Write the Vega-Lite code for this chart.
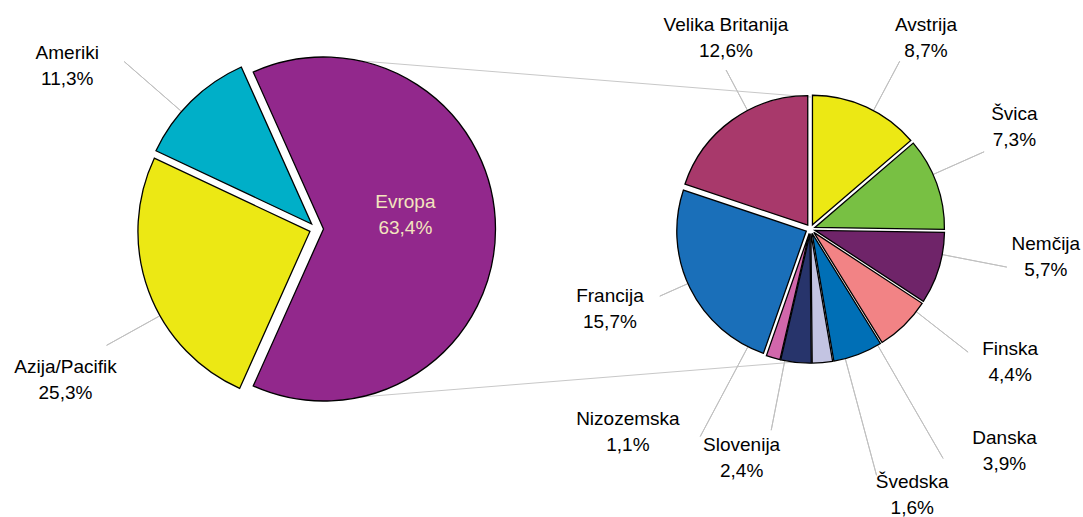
{
  "$schema": "https://vega.github.io/schema/vega-lite/v6.json",
  "width": 1083,
  "height": 517,
  "autosize": {"type": "fit", "contains": "padding"},
  "padding": 0,
  "background": "#ffffff",
  "config": {
    "view": {"stroke": null},
    "text": {"font": "Liberation Sans", "fontSize": 19, "lineHeight": 26, "baseline": "middle", "align": "center", "lineBreak": "\n", "color": "#000000", "dy": -13}
  },
  "data": {
    "values": [
      {"pie": "L", "k": 1, "name": "Evropa", "value": 63.4},
      {"pie": "L", "k": 2, "name": "Azija/Pacifik", "value": 25.3},
      {"pie": "L", "k": 3, "name": "Ameriki", "value": 11.3},
      {"pie": "R", "k": 1, "name": "Avstrija", "value": 8.7},
      {"pie": "R", "k": 2, "name": "Švica", "value": 7.3},
      {"pie": "R", "k": 3, "name": "Nemčija", "value": 5.7},
      {"pie": "R", "k": 4, "name": "Finska", "value": 4.4},
      {"pie": "R", "k": 5, "name": "Danska", "value": 3.9},
      {"pie": "R", "k": 6, "name": "Švedska", "value": 1.6},
      {"pie": "R", "k": 7, "name": "Slovenija", "value": 2.4},
      {"pie": "R", "k": 8, "name": "Nizozemska", "value": 1.1},
      {"pie": "R", "k": 9, "name": "Francija", "value": 15.7},
      {"pie": "R", "k": 10, "name": "Velika Britanija", "value": 12.6}
    ]
  },
  "transform": [
    {"joinaggregate": [{"op": "sum", "field": "value", "as": "total"}], "groupby": ["pie"]},
    {"window": [{"op": "sum", "field": "value", "as": "cum"}], "groupby": ["pie"], "sort": [{"field": "k", "order": "ascending"}], "frame": [null, 0]},
    {"calculate": "(datum.cum - datum.value) / datum.total", "as": "start"},
    {"calculate": "datum.cum / datum.total", "as": "end"},
    {"calculate": "(datum.start + datum.end) / 2", "as": "mid"},
    {"calculate": "datum.name + '\\n' + replace(format(datum.value, '.1f'), '.', ',') + '%'", "as": "label"}
  ],
  "encoding": {
    "x": {"field": "pie", "type": "nominal", "scale": {"type": "point", "domain": ["L", "R"], "range": [316.5, 810.5], "padding": 0}, "axis": null},
    "y": {"field": "pie", "type": "nominal", "scale": {"type": "point", "domain": ["L", "R"], "range": [229, 229], "padding": 0}, "axis": null}
  },
  "resolve": {"scale": {"theta": "independent"}},
  "layer": [
    {"transform": [{"filter": "datum.name === 'Evropa'"}], "mark": {"type": "rule", "stroke": "#C8C8C8", "strokeWidth": 1, "xOffset": 7, "yOffset": -171, "x2Offset": 0.5, "y2Offset": -132}, "encoding": {"x2": {"datum": "R"}, "y2": {"datum": "R"}}},
    {"transform": [{"filter": "datum.name === 'Evropa'"}], "mark": {"type": "rule", "stroke": "#C8C8C8", "strokeWidth": 1, "xOffset": 7, "yOffset": 171, "x2Offset": -2.5, "y2Offset": 132}, "encoding": {"x2": {"datum": "R"}, "y2": {"datum": "R"}}},

    {"transform": [{"filter": "datum.name === 'Ameriki'"}], "mark": {"type": "arc", "filled": false, "stroke": "#C0C0C0", "strokeWidth": 1, "innerRadius": 180, "outerRadius": 255, "thetaOffset": -0.0785, "theta2Offset": -0.0785}, "encoding": {"theta": {"field": "mid", "type": "quantitative", "scale": {"domain": [0, 1], "range": [-0.42097, 5.86221]}}, "theta2": {"field": "mid"}}},
    {"transform": [{"filter": "datum.name === 'Azija/Pacifik'"}], "mark": {"type": "arc", "filled": false, "stroke": "#C0C0C0", "strokeWidth": 1, "innerRadius": 180, "outerRadius": 240, "thetaOffset": -0.1511, "theta2Offset": -0.1511}, "encoding": {"theta": {"field": "mid", "type": "quantitative", "scale": {"domain": [0, 1], "range": [-0.42097, 5.86221]}}, "theta2": {"field": "mid"}}},
    {"transform": [{"filter": "datum.name === 'Velika Britanija'"}], "mark": {"type": "arc", "filled": false, "stroke": "#C0C0C0", "strokeWidth": 1, "innerRadius": 134, "outerRadius": 180, "thetaOffset": 0.1361, "theta2Offset": 0.1361}, "encoding": {"theta": {"field": "mid", "type": "quantitative", "scale": {"domain": [0, 1], "range": [0, 6.28319]}}, "theta2": {"field": "mid"}}},
    {"transform": [{"filter": "datum.name === 'Avstrija'"}], "mark": {"type": "arc", "filled": false, "stroke": "#C0C0C0", "strokeWidth": 1, "innerRadius": 134, "outerRadius": 190, "thetaOffset": 0.0576, "theta2Offset": 0.0576}, "encoding": {"theta": {"field": "mid", "type": "quantitative", "scale": {"domain": [0, 1], "range": [0, 6.28319]}}, "theta2": {"field": "mid"}}},
    {"transform": [{"filter": "datum.name === 'Švica'"}], "mark": {"type": "arc", "filled": false, "stroke": "#C0C0C0", "strokeWidth": 1, "innerRadius": 134, "outerRadius": 190, "thetaOffset": -0.0716, "theta2Offset": -0.0716}, "encoding": {"theta": {"field": "mid", "type": "quantitative", "scale": {"domain": [0, 1], "range": [0, 6.28319]}}, "theta2": {"field": "mid"}}},
    {"transform": [{"filter": "datum.name === 'Nemčija'"}], "mark": {"type": "arc", "filled": false, "stroke": "#C0C0C0", "strokeWidth": 1, "innerRadius": 134, "outerRadius": 200, "thetaOffset": -0.1056, "theta2Offset": -0.1056}, "encoding": {"theta": {"field": "mid", "type": "quantitative", "scale": {"domain": [0, 1], "range": [0, 6.28319]}}, "theta2": {"field": "mid"}}},
    {"transform": [{"filter": "datum.name === 'Finska'"}], "mark": {"type": "arc", "filled": false, "stroke": "#C0C0C0", "strokeWidth": 1, "innerRadius": 134, "outerRadius": 200, "thetaOffset": -0.1344, "theta2Offset": -0.1344}, "encoding": {"theta": {"field": "mid", "type": "quantitative", "scale": {"domain": [0, 1], "range": [0, 6.28319]}}, "theta2": {"field": "mid"}}},
    {"transform": [{"filter": "datum.name === 'Danska'"}], "mark": {"type": "arc", "filled": false, "stroke": "#C0C0C0", "strokeWidth": 1, "innerRadius": 134, "outerRadius": 265, "thetaOffset": -0.1623, "theta2Offset": -0.1623}, "encoding": {"theta": {"field": "mid", "type": "quantitative", "scale": {"domain": [0, 1], "range": [0, 6.28319]}}, "theta2": {"field": "mid"}}},
    {"transform": [{"filter": "datum.name === 'Švedska'"}], "mark": {"type": "arc", "filled": false, "stroke": "#C0C0C0", "strokeWidth": 1, "innerRadius": 134, "outerRadius": 255, "thetaOffset": -0.1728, "theta2Offset": -0.1728}, "encoding": {"theta": {"field": "mid", "type": "quantitative", "scale": {"domain": [0, 1], "range": [0, 6.28319]}}, "theta2": {"field": "mid"}}},
    {"transform": [{"filter": "datum.name === 'Slovenija'"}], "mark": {"type": "arc", "filled": false, "stroke": "#C0C0C0", "strokeWidth": 1, "innerRadius": 134, "outerRadius": 205, "thetaOffset": 0.0838, "theta2Offset": 0.0838}, "encoding": {"theta": {"field": "mid", "type": "quantitative", "scale": {"domain": [0, 1], "range": [0, 6.28319]}}, "theta2": {"field": "mid"}}},
    {"transform": [{"filter": "datum.name === 'Nizozemska'"}], "mark": {"type": "arc", "filled": false, "stroke": "#C0C0C0", "strokeWidth": 1, "innerRadius": 134, "outerRadius": 235, "thetaOffset": 0.2059, "theta2Offset": 0.2059}, "encoding": {"theta": {"field": "mid", "type": "quantitative", "scale": {"domain": [0, 1], "range": [0, 6.28319]}}, "theta2": {"field": "mid"}}},
    {"transform": [{"filter": "datum.name === 'Francija'"}], "mark": {"type": "arc", "filled": false, "stroke": "#C0C0C0", "strokeWidth": 1, "innerRadius": 134, "outerRadius": 165, "thetaOffset": 0.0367, "theta2Offset": 0.0367}, "encoding": {"theta": {"field": "mid", "type": "quantitative", "scale": {"domain": [0, 1], "range": [0, 6.28319]}}, "theta2": {"field": "mid"}}},

    {"transform": [{"filter": "datum.name === 'Evropa'"}], "mark": {"type": "arc", "outerRadius": 172, "fill": "#92288C", "stroke": "#000000", "strokeWidth": 1.3, "xOffset": 7, "yOffset": 0}, "encoding": {"theta": {"field": "start", "type": "quantitative", "scale": {"domain": [0, 1], "range": [-0.42097, 5.86221]}}, "theta2": {"field": "end"}}},
    {"transform": [{"filter": "datum.name === 'Azija/Pacifik'"}], "mark": {"type": "arc", "outerRadius": 172, "fill": "#ECE814", "stroke": "#000000", "strokeWidth": 1.3, "xOffset": -6.56, "yOffset": 2.43}, "encoding": {"theta": {"field": "start", "type": "quantitative", "scale": {"domain": [0, 1], "range": [-0.42097, 5.86221]}}, "theta2": {"field": "end"}}},
    {"transform": [{"filter": "datum.name === 'Ameriki'"}], "mark": {"type": "arc", "outerRadius": 172, "fill": "#00AFC8", "stroke": "#000000", "strokeWidth": 1.3, "xOffset": -4.9, "yOffset": -5.0}, "encoding": {"theta": {"field": "start", "type": "quantitative", "scale": {"domain": [0, 1], "range": [-0.42097, 5.86221]}}, "theta2": {"field": "end"}}},

    {"transform": [{"filter": "datum.name === 'Avstrija'"}], "mark": {"type": "arc", "outerRadius": 129.5, "fill": "#ECE814", "stroke": "#000000", "strokeWidth": 1.3, "xOffset": 1.96, "yOffset": -4.27}, "encoding": {"theta": {"field": "start", "type": "quantitative", "scale": {"domain": [0, 1], "range": [0, 6.28319]}}, "theta2": {"field": "end"}}},
    {"transform": [{"filter": "datum.name === 'Švica'"}], "mark": {"type": "arc", "outerRadius": 129.5, "fill": "#78C043", "stroke": "#000000", "strokeWidth": 1.3, "xOffset": 4.42, "yOffset": -1.6}, "encoding": {"theta": {"field": "start", "type": "quantitative", "scale": {"domain": [0, 1], "range": [0, 6.28319]}}, "theta2": {"field": "end"}}},
    {"transform": [{"filter": "datum.name === 'Nemčija'"}], "mark": {"type": "arc", "outerRadius": 129.5, "fill": "#6F2469", "stroke": "#000000", "strokeWidth": 1.3, "xOffset": 4.49, "yOffset": 1.38}, "encoding": {"theta": {"field": "start", "type": "quantitative", "scale": {"domain": [0, 1], "range": [0, 6.28319]}}, "theta2": {"field": "end"}}},
    {"transform": [{"filter": "datum.name === 'Finska'"}], "mark": {"type": "arc", "outerRadius": 129.5, "fill": "#F28385", "stroke": "#000000", "strokeWidth": 1.3, "xOffset": 3.28, "yOffset": 3.37}, "encoding": {"theta": {"field": "start", "type": "quantitative", "scale": {"domain": [0, 1], "range": [0, 6.28319]}}, "theta2": {"field": "end"}}},
    {"transform": [{"filter": "datum.name === 'Danska'"}], "mark": {"type": "arc", "outerRadius": 129.5, "fill": "#006FB6", "stroke": "#000000", "strokeWidth": 1.3, "xOffset": 1.66, "yOffset": 4.4}, "encoding": {"theta": {"field": "start", "type": "quantitative", "scale": {"domain": [0, 1], "range": [0, 6.28319]}}, "theta2": {"field": "end"}}},
    {"transform": [{"filter": "datum.name === 'Švedska'"}], "mark": {"type": "arc", "outerRadius": 129.5, "fill": "#C3C4E2", "stroke": "#000000", "strokeWidth": 1.3, "xOffset": 0.42, "yOffset": 4.68}, "encoding": {"theta": {"field": "start", "type": "quantitative", "scale": {"domain": [0, 1], "range": [0, 6.28319]}}, "theta2": {"field": "end"}}},
    {"transform": [{"filter": "datum.name === 'Slovenija'"}], "mark": {"type": "arc", "outerRadius": 129.5, "fill": "#27346B", "stroke": "#000000", "strokeWidth": 1.3, "xOffset": -0.51, "yOffset": 4.67}, "encoding": {"theta": {"field": "start", "type": "quantitative", "scale": {"domain": [0, 1], "range": [0, 6.28319]}}, "theta2": {"field": "end"}}},
    {"transform": [{"filter": "datum.name === 'Nizozemska'"}], "mark": {"type": "arc", "outerRadius": 129.5, "fill": "#D167AB", "stroke": "#000000", "strokeWidth": 1.3, "xOffset": -1.31, "yOffset": 4.51}, "encoding": {"theta": {"field": "start", "type": "quantitative", "scale": {"domain": [0, 1], "range": [0, 6.28319]}}, "theta2": {"field": "end"}}},
    {"transform": [{"filter": "datum.name === 'Francija'"}], "mark": {"type": "arc", "outerRadius": 129.5, "fill": "#1A6FB9", "stroke": "#000000", "strokeWidth": 1.3, "xOffset": -4.22, "yOffset": 2.07}, "encoding": {"theta": {"field": "start", "type": "quantitative", "scale": {"domain": [0, 1], "range": [0, 6.28319]}}, "theta2": {"field": "end"}}},
    {"transform": [{"filter": "datum.name === 'Velika Britanija'"}], "mark": {"type": "arc", "outerRadius": 129.5, "fill": "#A8396B", "stroke": "#000000", "strokeWidth": 1.3, "xOffset": -2.75, "yOffset": -3.81}, "encoding": {"theta": {"field": "start", "type": "quantitative", "scale": {"domain": [0, 1], "range": [0, 6.28319]}}, "theta2": {"field": "end"}}},

    {"transform": [{"filter": "datum.name === 'Evropa'"}], "mark": {"type": "text", "radius": 83, "thetaOffset": -0.1676, "xOffset": 7, "color": "#F3E5BE"}, "encoding": {"theta": {"field": "mid", "type": "quantitative", "scale": {"domain": [0, 1], "range": [-0.42097, 5.86221]}}, "text": {"field": "label"}}},
    {"transform": [{"filter": "datum.name === 'Azija/Pacifik'"}], "mark": {"type": "text", "radius": 293, "thetaOffset": -0.1868}, "encoding": {"theta": {"field": "mid", "type": "quantitative", "scale": {"domain": [0, 1], "range": [-0.42097, 5.86221]}}, "text": {"field": "label"}}},
    {"transform": [{"filter": "datum.name === 'Ameriki'"}], "mark": {"type": "text", "radius": 298, "thetaOffset": -0.2147}, "encoding": {"theta": {"field": "mid", "type": "quantitative", "scale": {"domain": [0, 1], "range": [-0.42097, 5.86221]}}, "text": {"field": "label"}}},
    {"transform": [{"filter": "datum.name === 'Velika Britanija'"}], "mark": {"type": "text", "radius": 209, "thetaOffset": 0.2077}, "encoding": {"theta": {"field": "mid", "type": "quantitative", "scale": {"domain": [0, 1], "range": [0, 6.28319]}}, "text": {"field": "label"}}},
    {"transform": [{"filter": "datum.name === 'Avstrija'"}], "mark": {"type": "text", "radius": 223, "thetaOffset": 0.1134}, "encoding": {"theta": {"field": "mid", "type": "quantitative", "scale": {"domain": [0, 1], "range": [0, 6.28319]}}, "text": {"field": "label"}}},
    {"transform": [{"filter": "datum.name === 'Švica'"}], "mark": {"type": "text", "radius": 228, "thetaOffset": -0.1169}, "encoding": {"theta": {"field": "mid", "type": "quantitative", "scale": {"domain": [0, 1], "range": [0, 6.28319]}}, "text": {"field": "label"}}},
    {"transform": [{"filter": "datum.name === 'Nemčija'"}], "mark": {"type": "text", "radius": 237, "thetaOffset": -0.1789}, "encoding": {"theta": {"field": "mid", "type": "quantitative", "scale": {"domain": [0, 1], "range": [0, 6.28319]}}, "text": {"field": "label"}}},
    {"transform": [{"filter": "datum.name === 'Finska'"}], "mark": {"type": "text", "radius": 240, "thetaOffset": -0.2094}, "encoding": {"theta": {"field": "mid", "type": "quantitative", "scale": {"domain": [0, 1], "range": [0, 6.28319]}}, "text": {"field": "label"}}},
    {"transform": [{"filter": "datum.name === 'Danska'"}], "mark": {"type": "text", "radius": 295, "thetaOffset": -0.356}, "encoding": {"theta": {"field": "mid", "type": "quantitative", "scale": {"domain": [0, 1], "range": [0, 6.28319]}}, "text": {"field": "label"}}},
    {"transform": [{"filter": "datum.name === 'Švedska'"}], "mark": {"type": "text", "radius": 285, "thetaOffset": -0.2758}, "encoding": {"theta": {"field": "mid", "type": "quantitative", "scale": {"domain": [0, 1], "range": [0, 6.28319]}}, "text": {"field": "label"}}},
    {"transform": [{"filter": "datum.name === 'Slovenija'"}], "mark": {"type": "text", "radius": 239, "thetaOffset": 0.1833}, "encoding": {"theta": {"field": "mid", "type": "quantitative", "scale": {"domain": [0, 1], "range": [0, 6.28319]}}, "text": {"field": "label"}}},
    {"transform": [{"filter": "datum.name === 'Nizozemska'"}], "mark": {"type": "text", "radius": 273, "thetaOffset": 0.4503}, "encoding": {"theta": {"field": "mid", "type": "quantitative", "scale": {"domain": [0, 1], "range": [0, 6.28319]}}, "text": {"field": "label"}}},
    {"transform": [{"filter": "datum.name === 'Francija'"}], "mark": {"type": "text", "radius": 216, "thetaOffset": 0.0759}, "encoding": {"theta": {"field": "mid", "type": "quantitative", "scale": {"domain": [0, 1], "range": [0, 6.28319]}}, "text": {"field": "label"}}}
  ]
}
